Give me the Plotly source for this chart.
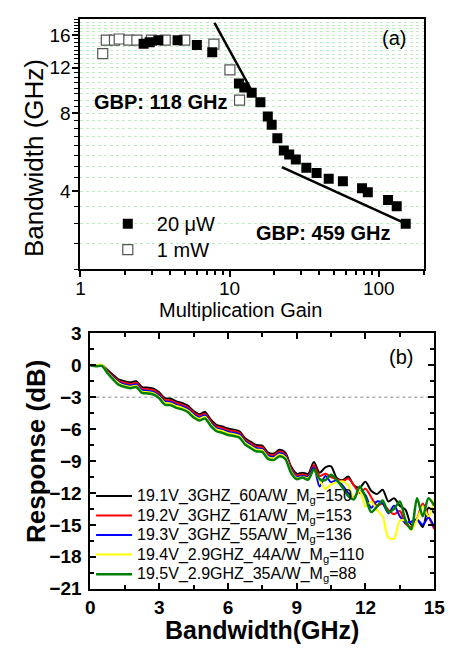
import plotly.graph_objects as go

#== Panel (a): bandwidth vs multiplication gain ==#
gain_20uw = [2.65, 2.91, 3.33, 4.48, 6.03, 7.65, 11.55, 12.55, 14.07, 16.09, 18.04, 19.15, 20.9,
             23.1, 25.1, 27.8, 32.7, 38.3, 46.2, 57.5, 77.3, 84.5, 115.5, 132.0, 151.7]
bw_20uw = [14.87, 15.06, 15.33, 15.33, 14.68, 13.77, 10.42, 10.06, 9.6, 8.83, 7.77, 7.22, 6.4,
           5.74, 5.54, 5.3, 4.93, 4.7, 4.47, 4.37, 4.1, 3.96, 3.7, 3.5, 2.99]
gain_1mw = [1.41, 1.49, 1.69, 1.82, 2.11, 2.39, 2.99, 3.7, 5.0, 7.85, 10.05, 11.66]
bw_1mw = [13.6, 15.33, 15.33, 15.5, 15.33, 15.33, 15.33, 15.33, 15.33, 14.8, 11.78, 9.0]

# GBP guide lines (end points)
fit_118_gain = [7.92, 13.87]
fit_118_bw = [17.9, 9.93]
fit_459_gain = [22.4, 145.6]
fit_459_bw = [4.95, 3.03]

#== Panel (b): frequency response ==#
freq_ghz = [0.0, 0.25, 0.5, 0.75, 1.0, 1.25, 1.5, 1.75, 2.0, 2.25, 2.5, 2.75, 3.0, 3.25, 3.5, 3.75,
            4.0, 4.25, 4.5, 4.75, 5.0, 5.25, 5.5, 5.75, 6.0, 6.25, 6.5, 6.75, 7.0, 7.25, 7.5, 7.75,
            8.0, 8.25, 8.5, 8.75, 9.0, 9.25, 9.5, 9.75, 10.0, 10.25, 10.5, 10.75, 11.0, 11.25, 11.5,
            11.75, 12.0, 12.25, 12.5, 12.75, 13.0, 13.25, 13.5, 13.75, 14.0, 14.25, 14.5, 14.75, 15.0]

resp_mg150 = [0.0, -0.05, 0.0, -0.45, -0.92, -1.35, -1.5, -1.6, -1.5, -2.05, -2.1, -2.2, -2.55, -3.1,
              -3.15, -3.4, -3.55, -3.8, -4.3, -4.6, -4.4, -5.1, -5.6, -5.75, -5.95, -6.05, -6.2,
              -6.85, -7.2, -7.5, -7.55, -8.2, -8.3, -7.95, -8.2, -9.5, -10.2, -10.1, -10.2, -9.1,
              -10.1, -9.6, -9.5, -10.6, -10.8, -10.45, -11.3, -11.5, -10.95, -11.8, -12.1, -11.7,
              -12.8, -12.5, -13.2, -13.6, -15.0, -14.5, -15.2, -13.4, -13.9]
resp_mg153 = [0.0, -0.05, 0.0, -0.55, -1.05, -1.5, -1.65, -1.75, -1.65, -2.2, -2.25, -2.35, -2.7,
              -3.25, -3.3, -3.55, -3.7, -3.95, -4.45, -4.75, -4.55, -5.25, -5.75, -5.9, -6.1, -6.2,
              -6.35, -7.0, -7.35, -7.65, -7.7, -8.35, -8.45, -8.1, -8.35, -9.65, -10.35, -10.25,
              -10.4, -9.4, -10.4, -10.2, -10.5, -10.7, -10.9, -10.65, -11.3, -12.0, -11.6, -12.4,
              -13.2, -13.0, -13.6, -14.0, -13.7, -14.9, -15.2, -14.4, -13.0, -14.2, -15.4]
resp_mg136 = [0.0, -0.05, -0.02, -0.65, -1.15, -1.6, -1.8, -1.9, -1.8, -2.35, -2.4, -2.5, -2.85,
              -3.4, -3.45, -3.7, -3.85, -4.1, -4.6, -4.9, -4.7, -5.4, -5.9, -6.05, -6.25, -6.35,
              -6.5, -7.15, -7.5, -7.8, -7.85, -8.5, -8.6, -8.25, -8.5, -9.8, -10.5, -10.4, -10.5,
              -9.6, -11.4, -10.4, -11.0, -10.8, -11.3, -12.0, -12.4, -11.8, -12.2, -13.4, -12.8,
              -13.0, -13.9, -13.2, -14.2, -14.8, -14.7, -14.5, -15.0, -14.3, -15.2]
resp_mg110 = [0.05, 0.0, 0.05, -0.7, -1.25, -1.7, -1.92, -2.03, -1.93, -2.48, -2.53, -2.63, -2.98,
              -3.53, -3.58, -3.83, -3.98, -4.23, -4.73, -5.03, -4.83, -5.53, -6.03, -6.18, -6.38,
              -6.48, -6.63, -7.28, -7.63, -7.93, -7.98, -8.63, -8.73, -8.38, -8.63, -9.93, -10.6,
              -10.5, -10.6, -9.9, -10.8, -11.6, -11.2, -11.0, -10.9, -11.3, -12.5, -11.8, -13.3,
              -12.8, -13.6, -14.2, -16.2, -16.3, -14.6, -14.6, -15.5, -14.5, -13.3, -14.2, -12.6]
resp_mg88 = [0.0, -0.1, -0.05, -0.75, -1.35, -1.85, -2.05, -2.15, -2.05, -2.6, -2.65, -2.75, -3.1,
             -3.7, -3.75, -4.0, -4.15, -4.4, -4.9, -5.2, -5.0, -5.7, -6.2, -6.35, -6.55, -6.65,
             -6.8, -7.45, -7.8, -8.1, -8.15, -8.8, -8.9, -8.55, -8.8, -10.1, -10.7, -10.55, -10.75,
             -9.8, -10.7, -10.8, -10.3, -10.8, -11.5, -12.3, -12.6, -11.4, -12.4, -13.8, -13.3,
             -12.7, -13.8, -13.5, -12.8, -14.6, -15.4, -12.5, -14.2, -12.5, -13.2]

resp_series = [resp_mg150, resp_mg153, resp_mg136, resp_mg110, resp_mg88]
resp_labels = ['19.1V_3GHZ_60A/W_M<sub>g</sub>=150',
               '19.2V_3GHZ_61A/W_M<sub>g</sub>=153',
               '19.3V_3GHZ_55A/W_M<sub>g</sub>=136',
               '19.4V_2.9GHZ_44A/W_M<sub>g</sub>=110',
               '19.5V_2.9GHZ_35A/W_M<sub>g</sub>=88']
resp_colors = ['#000000', '#ff0000', '#0000ff', '#ffff00', '#008000']
resp_widths = [2, 2, 2, 2, 2.5]

FONT = 'Liberation Sans, Arial, sans-serif'
PAGE_W, PAGE_H = 459, 658
OFF = 8                       # default body margin of the page
W, H = PAGE_W - 2 * OFF, PAGE_H - 2 * OFF


# page pixel -> paper fraction
def xp(px):
    return (px - OFF) / W


def yp(py):
    return 1 - (py - OFF) / H


def big(txt, px):
    # legend row spacing follows legend font size; draw the text itself larger
    return '<span style="font-size:%dpx">%s</span>' % (px, txt)


fig = go.Figure()

#== Panel (a) traces ==#
fig.add_trace(go.Scatter(x=gain_1mw, y=bw_1mw, mode='markers', name=big('1 mW', 20),
                         marker=dict(symbol='square', size=10, color='white',
                                     line=dict(color='#555555', width=1.2)),
                         xaxis='x', yaxis='y', legend='legend', legendrank=2))
fig.add_trace(go.Scatter(x=gain_20uw, y=bw_20uw, mode='markers', name=big('20 μW', 20),
                         marker=dict(symbol='square', size=10, color='black',
                                     line=dict(color='black', width=0)),
                         xaxis='x', yaxis='y', legend='legend', legendrank=1))
fig.add_trace(go.Scatter(x=fit_118_gain, y=fit_118_bw, mode='lines', showlegend=False,
                         line=dict(color='black', width=2.5), xaxis='x', yaxis='y'))
fig.add_trace(go.Scatter(x=fit_459_gain, y=fit_459_bw, mode='lines', showlegend=False,
                         line=dict(color='black', width=2.5), xaxis='x', yaxis='y'))

#== Panel (b) traces ==#
for vals, label, col, lw in zip(resp_series, resp_labels, resp_colors, resp_widths):
    fig.add_trace(go.Scatter(x=freq_ghz, y=vals, mode='lines', name=big(label, 16),
                             line=dict(color=col, width=lw, shape='spline', smoothing=0.8),
                             xaxis='x2', yaxis='y2', legend='legend2'))

# -3 dB reference
fig.add_shape(type='line', xref='x2', yref='y2', x0=0, x1=15, y0=-3, y1=-3,
              line=dict(color='#888888', width=1, dash='dot'), layer='below')

tick_a = dict(family=FONT, size=19, color='black')
tick_b = dict(family=FONT, size=19, color='black', weight='bold')

fig.update_layout(
    width=W, height=H,
    margin=dict(l=0, r=0, t=0, b=0),
    paper_bgcolor='white', plot_bgcolor='white',
    font=dict(family=FONT, color='black'),
    xaxis=dict(type='log', domain=[xp(78), xp(434)], anchor='y', range=[0, 2.301],
               tickvals=[1, 10, 100], ticktext=['1', '10', '100'], ticks='outside', ticklen=6,
               tickwidth=1.5, tickcolor='black', tickfont=tick_a, ticklabelstandoff=-5,
               showline=True, linewidth=2, linecolor='black', mirror=True, showgrid=False,
               zeroline=False,
               minor=dict(tickvals=[2, 3, 4, 5, 6, 7, 8, 9, 20, 30, 40, 50, 60, 70, 80, 90, 200],
                          ticks='outside', ticklen=4, tickwidth=1.5, tickcolor='black',
                          showgrid=False)),
    yaxis=dict(type='log', domain=[yp(267.5), yp(9)], anchor='x',
               range=[0.30103, 1.2677], tickvals=[4, 8, 12, 16], ticks='outside', ticklen=6,
               tickwidth=1.5, tickcolor='black', tickfont=tick_a, ticklabelstandoff=-2,
               showline=True, linewidth=2, linecolor='black', mirror=True,
               showgrid=True, gridcolor='#bdeebd', griddash='dot', gridwidth=1, zeroline=False,
               minor=dict(tickvals=[v / 2 for v in range(4, 38)], ticks='outside', ticklen=4,
                          tickwidth=1.2, tickcolor='black', showgrid=True,
                          gridcolor='#bdeebd', griddash='dot', gridwidth=1)),
    xaxis2=dict(domain=[xp(88.3), xp(445)], anchor='y2', range=[0, 15], dtick=3, tick0=0,
                ticks='inside', ticklen=6, tickwidth=1.5, tickcolor='black', tickfont=tick_b,
                ticklabelstandoff=0, ticklabeloverflow='allow',
                showline=True, linewidth=2, linecolor='black', mirror='allticks',
                showgrid=False, zeroline=False,
                minor=dict(dtick=1.5, tick0=0, ticks='inside', ticklen=4, tickwidth=1.5,
                           tickcolor='black', showgrid=False)),
    yaxis2=dict(domain=[yp(598), yp(334)], anchor='x2', range=[-21, 3], dtick=3,
                tick0=0, ticks='inside', ticklen=6, tickwidth=1.5, tickcolor='black',
                tickfont=tick_b, ticklabelstandoff=3, showline=True, linewidth=2,
                linecolor='black', mirror='allticks', showgrid=False, zeroline=False,
                minor=dict(dtick=1.5, tick0=0, ticks='inside', ticklen=4, tickwidth=1.5,
                           tickcolor='black', showgrid=False)),
    legend=dict(x=xp(97), y=yp(202), xanchor='left', yanchor='top',
                bgcolor='rgba(0,0,0,0)', itemwidth=48, traceorder='normal',
                font=dict(family=FONT, size=17.7, color='black')),
    legend2=dict(x=xp(89), y=yp(487), xanchor='left', yanchor='top',
                 bgcolor='rgba(0,0,0,0)', itemwidth=36, traceorder='normal',
                 font=dict(family=FONT, size=12.7, color='black')),
)

# text labels and axis titles (page pixel positions)
notes = [
    ('GBP: 118 GHz', 161.5, 95, 20, 'bold', 0),
    ('GBP: 459 GHz', 330, 230, 20, 'bold', 0),
    ('(a)', 403.5, 28.5, 20, 'normal', 0),
    ('(b)', 411, 358, 20, 'normal', 0),
    ('Bandwidth (GHz)', 30, 152.5, 26, 'normal', -90),
    ('Multiplication Gain', 244, 310, 20, 'normal', 0),
    ('Response (dB)', 32, 456.5, 26, 'bold', -90),
    ('Bandwidth(GHz)', 266.5, 641, 25, 'bold', 0),
]
for txt, px, py, size, weight, ang in notes:
    fig.add_annotation(text=txt, x=xp(px), y=yp(py), xref='paper', yref='paper',
                       xanchor='center', yanchor='middle', showarrow=False, textangle=ang,
                       font=dict(family=FONT, size=size, color='black', weight=weight))

fig.write_html("out.html", config={'displayModeBar': False})
